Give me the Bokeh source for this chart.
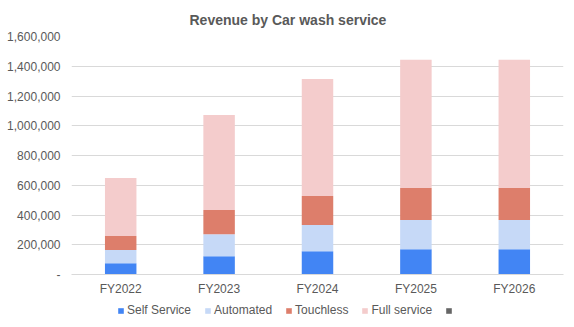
from bokeh.plotting import figure
from bokeh.layouts import column
from bokeh.models import (FactorRange, Range1d, Legend, LegendItem, CustomJSTickFormatter,
                          ColumnDataSource)
from bokeh.embed import file_html
from bokeh.resources import INLINE

years = ["FY2022", "FY2023", "FY2024", "FY2025", "FY2026"]
self_service = [76000, 123000, 157000, 170000, 170000]
automated = [88000, 148000, 175000, 196000, 196000]
touchless = [94000, 162000, 195000, 215000, 215000]
full_service = [390000, 640000, 788000, 862000, 862000]
series = ["Self Service", "Automated", "Touchless", "Full service", " "]
colors = ["#4285F4", "#C6D9F7", "#DD7E6B", "#F4CCCC", "#666666"]

FONT = "Liberation Sans"
TXT = "#595959"

src = ColumnDataSource(dict(year=years, s1=self_service, s2=automated, s3=touchless, s4=full_service))

p = figure(frame_width=492, frame_height=238, output_backend="svg", toolbar_location=None,
           x_range=FactorRange(*years, range_padding=0), y_range=Range1d(0, 1600000),
           title="Revenue by Car wash service",
           min_border_left=71, min_border_right=11, min_border_top=0, min_border_bottom=0)

p.vbar_stack(["s1", "s2", "s3", "s4"], x="year", width=0.32, color=colors[:4],
             source=src, line_color=None)

p.title.text_font = FONT
p.title.text_font_size = "14px"
p.title.text_font_style = "bold"
p.title.text_color = TXT
p.title.align = "left"
p.title.offset = 118
p.title.standoff = 18

p.yaxis.ticker = [0, 200000, 400000, 600000, 800000, 1000000, 1200000, 1400000, 1600000]
p.yaxis.formatter = CustomJSTickFormatter(code="""
return tick == 0 ? '-' : tick.toLocaleString('en-US');
""")
for ax in (p.xaxis, p.yaxis):
    ax.axis_line_color = None
    ax.major_tick_line_color = None
    ax.minor_tick_line_color = None
    ax.major_tick_out = 0
    ax.major_tick_in = 0
    ax.minor_tick_out = 0
    ax.minor_tick_in = 0
    ax.major_label_text_font = FONT
    ax.major_label_text_font_size = "12px"
    ax.major_label_text_color = TXT
p.yaxis.major_label_standoff = 11
p.xaxis.major_label_standoff = 7
p.xaxis.axis_line_color = "#D9D9D9"

p.xgrid.grid_line_color = None
p.ygrid.grid_line_color = "#D9D9D9"
p.outline_line_color = None

# legend strip
lg = figure(width=574, height=29, output_backend="svg", toolbar_location=None,
            x_range=Range1d(0, 1), y_range=Range1d(0, 1),
            x_axis_location=None, y_axis_location=None,
            min_border_left=0, min_border_right=0, min_border_top=0, min_border_bottom=0)
lg.grid.visible = False
lg.outline_line_color = None
items = []
for name, c in zip(series, colors):
    r = lg.vbar(x=[0.5], top=[0], bottom=[0], width=0.1, color=c, line_color=None)
    items.append(LegendItem(label=name, renderers=[r]))
legend = Legend(items=items, orientation="horizontal", location=(46, 10),
                label_text_font=FONT, label_text_font_size="12px", label_text_color=TXT,
                glyph_width=7, glyph_height=7, label_standoff=3, spacing=13,
                label_height=12, padding=0, margin=0,
                border_line_color=None, background_fill_alpha=0)
lg.add_layout(legend, "center")

open("out.html", "w").write(file_html(column(p, lg, spacing=0), INLINE))
